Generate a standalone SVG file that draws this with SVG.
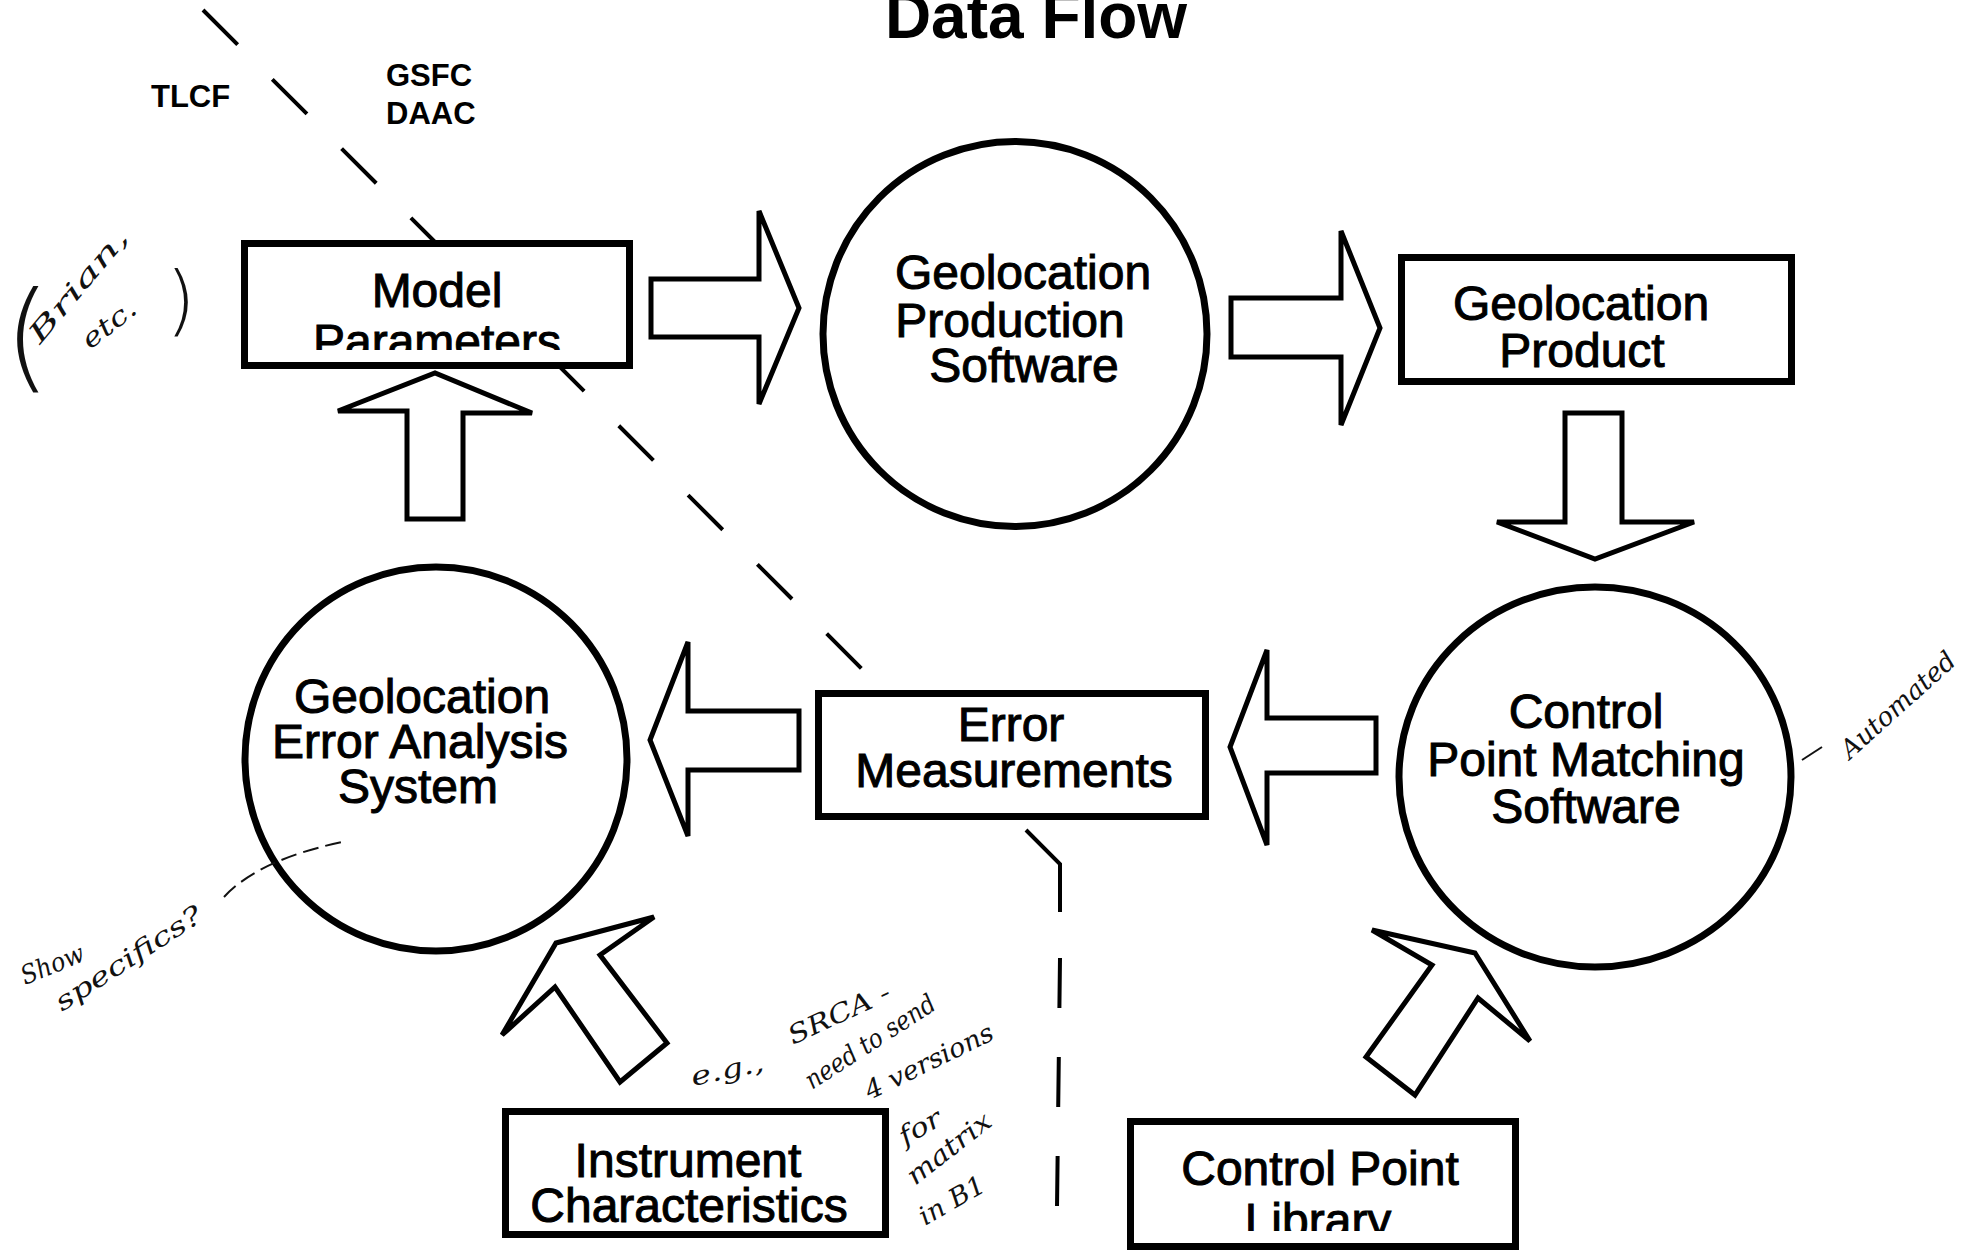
<svg xmlns="http://www.w3.org/2000/svg" width="1976" height="1257" viewBox="0 0 1976 1257">
  <style>
    .box { fill: #fff; stroke: #000; stroke-width: 7; }
    .circ { fill: #fff; stroke: #000; stroke-width: 7; }
    .arrow { fill: #fff; stroke: #000; stroke-width: 5; stroke-linejoin: miter; stroke-miterlimit: 2.5; }
    .dash { fill: none; stroke: #000; stroke-width: 4; }
    .lbl { font-family: "Liberation Sans", Arial, Helvetica, sans-serif; font-size: 48px; fill: #000; stroke: #000; stroke-width: 1; text-anchor: middle; }
    .site { font-family: "Liberation Sans", Arial, Helvetica, sans-serif; font-size: 31px; font-weight: bold; fill: #000; }
    .title { font-family: "Liberation Sans", Arial, Helvetica, sans-serif; font-size: 64px; font-weight: bold; fill: #000; text-anchor: middle; }
    .hand { font-family: "DejaVu Serif", "Liberation Serif", serif; font-style: italic; font-size: 26px; fill: #111; }
    .paren { font-family: "DejaVu Sans", sans-serif; font-weight: 200; fill: #111; }
    .handline { fill: none; stroke: #111; stroke-width: 2; }
  </style>
  <defs>
    <clipPath id="clipModel"><rect x="241" y="240" width="392" height="110"/></clipPath>
    <clipPath id="clipLib"><rect x="1127" y="1118" width="392" height="113"/></clipPath>
  </defs>
  <rect width="1976" height="1257" fill="#fff"/>

  <text class="title" x="1036" y="38">Data Flow</text>
  <text class="site" x="151" y="107">TLCF</text>
  <text class="site" x="386" y="86" font-size="32">GSFC</text>
  <text class="site" x="386" y="124" font-size="32">DAAC</text>

  <g id="connectors">
    <path class="dash" d="M203,10 L862,669" stroke-dasharray="49 49"/>
    <path class="dash" d="M1026,830 L1060,864 L1060,912"/>
    <path class="dash" d="M1060,958 L1057,1208" stroke-dasharray="50 49"/>
    <polygon id="arrow-model-gps" class="arrow" points="651,279 759,279 759,211 799,308 759,404 759,337 651,337"/>
    <polygon id="arrow-gps-product" class="arrow" points="1231,298 1341,298 1341,231 1380,328 1341,425 1341,357 1231,357"/>
    <polygon id="arrow-product-cpm" class="arrow" points="1565,413 1622,413 1622,522 1694,522 1595,559 1497,522 1565,522"/>
    <polygon id="arrow-cpm-em" class="arrow" points="1376,718 1267,718 1267,650 1230,747 1267,845 1267,773 1376,773"/>
    <polygon id="arrow-em-geas" class="arrow" points="799,711 688,711 688,642 650,740 688,836 688,770 799,770"/>
    <polygon id="arrow-geas-model" class="arrow" points="407,519 407,411 338,411 435,373 532,413 463,413 463,519"/>
    <polygon id="arrow-instr-geas" class="arrow" points="556,943 654,917 600,955 667,1043 620,1082 555,987 502,1035"/>
    <polygon id="arrow-lib-cpm" class="arrow" points="1475,953 1530,1041 1478,998 1415,1095 1366,1057 1432,965 1372,930"/>
  </g>

  <g id="model-parameters">
    <rect class="box" x="244.5" y="243.5" width="385" height="122"/>
    <text class="lbl" x="437" y="307">Model</text>
    <text class="lbl" x="437" y="358" clip-path="url(#clipModel)">Parameters</text>
  </g>

  <g id="geolocation-production-software">
    <ellipse class="circ" cx="1015" cy="334" rx="192" ry="192.5"/>
    <text class="lbl" x="1023" y="289">Geolocation</text>
    <text class="lbl" x="1010" y="337">Production</text>
    <text class="lbl" x="1024" y="382">Software</text>
  </g>

  <g id="geolocation-product">
    <rect class="box" x="1401.5" y="257.5" width="390" height="124"/>
    <text class="lbl" x="1581" y="320">Geolocation</text>
    <text class="lbl" x="1582" y="367">Product</text>
  </g>

  <g id="control-point-matching-software">
    <ellipse class="circ" cx="1595" cy="777" rx="196" ry="190"/>
    <text class="lbl" x="1586" y="728">Control</text>
    <text class="lbl" x="1586" y="776">Point Matching</text>
    <text class="lbl" x="1586" y="823">Software</text>
  </g>

  <g id="error-measurements">
    <rect class="box" x="818.5" y="693.5" width="387" height="123"/>
    <text class="lbl" x="1011" y="741">Error</text>
    <text class="lbl" x="1014" y="787">Measurements</text>
  </g>

  <g id="geolocation-error-analysis-system">
    <ellipse class="circ" cx="436" cy="759" rx="191" ry="192"/>
    <text class="lbl" x="422" y="713">Geolocation</text>
    <text class="lbl" x="420" y="758">Error Analysis</text>
    <text class="lbl" x="418" y="803">System</text>
  </g>

  <g id="instrument-characteristics">
    <rect class="box" x="505.5" y="1111.5" width="380" height="123"/>
    <text class="lbl" x="688" y="1177">Instrument</text>
    <text class="lbl" x="689" y="1222">Characteristics</text>
  </g>

  <g id="control-point-library">
    <rect class="box" x="1130.5" y="1121.5" width="385" height="125"/>
    <text class="lbl" x="1320" y="1185">Control Point</text>
    <text class="lbl" x="1318" y="1237" clip-path="url(#clipLib)">Library</text>
  </g>

  <g id="annotations">
    <text class="paren" x="4" y="377" font-size="120">(</text>
    <text class="paren" x="166" y="326" font-size="76">)</text>
    <text class="hand" transform="translate(40,345) rotate(-50)" textLength="140" lengthAdjust="spacingAndGlyphs">Brian,</text>
    <text class="hand" transform="translate(90,350) rotate(-38)" textLength="62" lengthAdjust="spacingAndGlyphs">etc.</text>

    <line class="handline" x1="1802" y1="760" x2="1822" y2="747"/>
    <text class="hand" font-size="34" transform="translate(1850,760) rotate(-42)" textLength="145" lengthAdjust="spacingAndGlyphs">Automated</text>

    <path class="handline" d="M224,897 Q258,860 342,842" stroke-dasharray="16 7"/>
    <text class="hand" transform="translate(25,985) rotate(-22)" textLength="66" lengthAdjust="spacingAndGlyphs">Show</text>
    <text class="hand" transform="translate(62,1012) rotate(-33)" textLength="170" lengthAdjust="spacingAndGlyphs">specifics?</text>

    <text class="hand" font-size="30" transform="translate(693,1086) rotate(-12)" textLength="74" lengthAdjust="spacingAndGlyphs">e.g.,</text>
    <text class="hand" transform="translate(793,1045) rotate(-25)" textLength="110" lengthAdjust="spacingAndGlyphs">SRCA -</text>
    <text class="hand" transform="translate(812,1090) rotate(-33)" textLength="150" lengthAdjust="spacingAndGlyphs">need to send</text>
    <text class="hand" transform="translate(870,1100) rotate(-26)" textLength="140" lengthAdjust="spacingAndGlyphs">4 versions</text>
    <text class="hand" transform="translate(905,1146) rotate(-30)" textLength="45" lengthAdjust="spacingAndGlyphs">for</text>
    <text class="hand" transform="translate(915,1186) rotate(-38)" textLength="100" lengthAdjust="spacingAndGlyphs">matrix</text>
    <text class="hand" transform="translate(925,1226) rotate(-30)" textLength="72" lengthAdjust="spacingAndGlyphs">in B1</text>
  </g>
</svg>
